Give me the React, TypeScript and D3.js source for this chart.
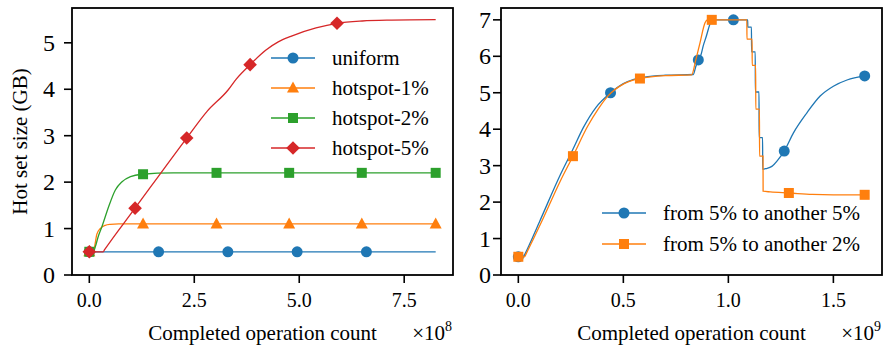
import * as d3 from "d3";

// ---- left panel data (x in units of 1e8) ----
const uniformLine = [[0, 0.5], [8.25, 0.5]];
const uniformMarks = [[0, 0.5], [1.65, 0.5], [3.3, 0.5], [4.95, 0.5], [6.6, 0.5]];

const hot1Line = [[0, 0.5], [0.1, 0.5], [0.12, 0.58], [0.18, 0.88], [0.26, 1.0], [0.38, 1.07], [0.5, 1.09], [0.7, 1.1], [8.25, 1.1]];
const hot1Marks = [[0, 0.5], [1.28, 1.1], [3.03, 1.1], [4.76, 1.1], [6.49, 1.1], [8.25, 1.1]];

const hot2Line = [[0, 0.5], [0.1, 0.5], [0.14, 0.6], [0.22, 0.85], [0.3, 1.04], [0.46, 1.47], [0.62, 1.83],
  [0.78, 2.01], [0.98, 2.12], [1.25, 2.17], [2.0, 2.2], [8.25, 2.2]];
const hot2Marks = [[0, 0.5], [1.28, 2.17], [3.03, 2.2], [4.76, 2.2], [6.49, 2.2], [8.25, 2.2]];

const hot5Line = [[0, 0.5], [0.33, 0.5], [0.36, 0.54], [1.09, 1.44], [2.32, 2.95], [2.8, 3.52], [3.31, 3.99], [3.5, 4.22],
  [3.83, 4.53], [4.2, 4.84], [4.5, 5.02], [4.8, 5.14], [5.4, 5.32], [5.9, 5.42], [6.5, 5.47], [7.2, 5.49], [8.25, 5.5]];
const hot5Marks = [[0, 0.5], [1.09, 1.44], [2.32, 2.95], [3.83, 4.53], [5.9, 5.42]];

// ---- right panel data (x in units of 1e9) ----
const same5Line = [[0, 0.5], [0.025, 0.5], [0.032, 0.58], [0.1, 1.45], [0.2, 2.75], [0.26, 3.45], [0.31, 4.05], [0.37, 4.6],
  [0.44, 5.0], [0.5, 5.25], [0.55, 5.37], [0.6, 5.43], [0.7, 5.48], [0.833, 5.5], [0.845, 5.72], [0.857, 5.9],
  [0.87, 6.05], [0.88, 6.28], [0.895, 6.55], [0.905, 6.75], [0.915, 6.93], [0.925, 7.0], [1.024, 7.0],
  [1.092, 7.0], [1.0925, 6.8], [1.11, 6.8], [1.1105, 6.12], [1.128, 6.12], [1.1285, 5.02], [1.146, 5.02],
  [1.1465, 3.77], [1.163, 3.77], [1.1635, 2.9], [1.18, 2.92], [1.207, 2.98], [1.235, 3.15], [1.266, 3.4],
  [1.31, 3.9], [1.374, 4.45], [1.437, 4.91], [1.5, 5.18], [1.565, 5.35], [1.649, 5.46]];
const same5Marks = [[0, 0.5], [0.439, 5.0], [0.857, 5.9], [1.024, 7.0], [1.266, 3.4], [1.649, 5.46]];

const to2Line = [[0, 0.5], [0.03, 0.5], [0.037, 0.58], [0.114, 1.5], [0.2, 2.58], [0.26, 3.26], [0.33, 4.08], [0.38, 4.55],
  [0.425, 4.9], [0.504, 5.25], [0.58, 5.39], [0.7, 5.47], [0.825, 5.49], [0.845, 5.9], [0.865, 6.37],
  [0.889, 6.92], [0.9, 7.0], [0.921, 7.0], [1.088, 7.0], [1.0885, 6.47], [1.113, 6.47], [1.1135, 5.75],
  [1.13, 5.75], [1.1305, 4.55], [1.148, 4.55], [1.1485, 3.26], [1.165, 3.26], [1.1655, 2.3], [1.2, 2.28],
  [1.29, 2.25], [1.4, 2.21], [1.5, 2.2], [1.65, 2.2]];
const to2Marks = [[0, 0.5], [0.26, 3.26], [0.579, 5.39], [0.921, 7.0], [1.288, 2.25], [1.649, 2.2]];

const leftTicksX = [0, 2.5, 5.0, 7.5];
const leftTicksY = [0, 1, 2, 3, 4, 5];
const rightTicksX = [0, 0.5, 1.0, 1.5];
const rightTicksY = [0, 1, 2, 3, 4, 5, 6, 7];

const leftNames = ["uniform", "hotspot-1%", "hotspot-2%", "hotspot-5%"];
const rightNames = ["from 5% to another 5%", "from 5% to another 2%"];

const tab = ["#1f77b4", "#ff7f0e", "#2ca02c", "#d62728"];
const SERIF = "Liberation Serif";

function T(props) {
  return <text fontFamily={SERIF} style={{ fontFamily: SERIF }} {...props} />;
}

function marker(kind, x, y, color, key) {
  if (kind === "o") return <circle key={key} cx={x} cy={y} r={5.5} fill={color} />;
  if (kind === "^") {
    const p = `M${x},${y - 6.5}L${x + 6},${y + 4.5}L${x - 6},${y + 4.5}Z`;
    return <path key={key} d={p} fill={color} />;
  }
  if (kind === "s") return <rect key={key} x={x - 5} y={y - 5} width={10} height={10} fill={color} />;
  const p = `M${x},${y - 6.8}L${x + 6.8},${y}L${x},${y + 6.8}L${x - 6.8},${y}Z`;
  return <path key={key} d={p} fill={color} />;
}

function Panel({ left, right, xDomain, yMax, series, xTicks, yTicks, tickFmt, ylabel, yLabelEnd, power, legend }) {
  const top = 8, bottom = 275;
  const x = d3.scaleLinear().domain(xDomain).range([left, right]);
  const y = d3.scaleLinear().domain([0, yMax]).range([bottom, top]);
  const line = d3.line().x(d => x(d[0])).y(d => y(d[1])).curve(d3.curveMonotoneX);
  const cx = (left + right) / 2;
  return (
    <g>
      <defs>
        <clipPath id={"clip" + left}>
          <rect x={left} y={top} width={right - left} height={bottom - top} />
        </clipPath>
      </defs>
      <g clipPath={`url(#clip${left})`}>
        {series.map((s, i) => (
          <g key={i}>
            <path d={line(s.line)} fill="none" stroke={s.color} strokeWidth={1.3} />
            {s.marks.map((m, j) => marker(s.kind, x(m[0]), y(m[1]), s.color, j))}
          </g>
        ))}
      </g>
      <rect x={left} y={top} width={right - left} height={bottom - top} fill="none" stroke="#000" strokeWidth={1.8} />
      {xTicks.map(t => (
        <g key={"x" + t}>
          <line x1={x(t)} x2={x(t)} y1={bottom} y2={bottom + 8} stroke="#000" strokeWidth={1.6} />
          <T x={x(t)} y={307} textAnchor="middle" fontSize={20}>{tickFmt(t)}</T>
        </g>
      ))}
      {yTicks.map(t => (
        <g key={"y" + t}>
          <line x1={left - 8} x2={left} y1={y(t)} y2={y(t)} stroke="#000" strokeWidth={1.6} />
          <T x={yLabelEnd} y={y(t) + 8} textAnchor="end" fontSize={24}>{t}</T>
        </g>
      ))}
      <T x={cx} y={340} textAnchor="middle" fontSize={21}>Completed operation count</T>
      <T x={right - 1} y={340} textAnchor="end" fontSize={21}>
        ×10<tspan dy={-9} fontSize={14}>{power}</tspan>
      </T>
      {ylabel && (
        <T transform={`translate(27,${(top + bottom) / 2}) rotate(-90)`} textAnchor="middle" fontSize={21}>{ylabel}</T>
      )}
      {legend.items.map((it, i) => {
        const ly = legend.y0 + i * legend.dy;
        return (
          <g key={"l" + i}>
            <line x1={legend.x0} x2={legend.x0 + 44} y1={ly} y2={ly} stroke={it.color} strokeWidth={1.3} />
            {marker(it.kind, legend.x0 + 22, ly, it.color, "m")}
            <T x={legend.tx} y={ly + 7} fontSize={21}>{it.name}</T>
          </g>
        );
      })}
    </g>
  );
}

export default function App() {
  const leftSeries = [
    { line: uniformLine, marks: uniformMarks, color: tab[0], kind: "o" },
    { line: hot1Line, marks: hot1Marks, color: tab[1], kind: "^" },
    { line: hot2Line, marks: hot2Marks, color: tab[2], kind: "s" },
    { line: hot5Line, marks: hot5Marks, color: tab[3], kind: "D" },
  ];
  const rightSeries = [
    { line: same5Line, marks: same5Marks, color: tab[0], kind: "o" },
    { line: to2Line, marks: to2Marks, color: tab[1], kind: "s" },
  ];
  return (
    <svg width={883} height={349} style={{ position: "absolute", left: 0, top: 0, background: "#fff" }}>
      <Panel
        left={72} right={453} xDomain={[-0.4125, 8.6625]} yMax={5.75}
        series={leftSeries} xTicks={leftTicksX} yTicks={leftTicksY}
        tickFmt={d3.format(".1f")} ylabel="Hot set size (GB)" yLabelEnd={55} power="8"
        legend={{ x0: 271, tx: 332, y0: 58, dy: 30, items: leftSeries.map((s, i) => ({ ...s, name: leftNames[i] })) }}
      />
      <Panel
        left={501} right={882} xDomain={[-0.0825, 1.7315]} yMax={7.325}
        series={rightSeries} xTicks={rightTicksX} yTicks={rightTicksY}
        tickFmt={d3.format(".1f")} ylabel={null} yLabelEnd={491} power="9"
        legend={{ x0: 602, tx: 663, y0: 213, dy: 31, items: rightSeries.map((s, i) => ({ ...s, name: rightNames[i] })) }}
      />
    </svg>
  );
}
